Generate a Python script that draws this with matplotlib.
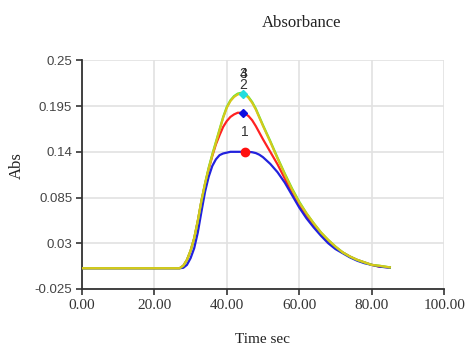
import numpy as np
import matplotlib
matplotlib.use('Agg')
import matplotlib.pyplot as plt

# time axis (sec)
t = [0, 27, 28, 29, 30, 31, 32, 33, 34, 35, 36, 37, 38, 39, 40, 41, 42, 43,
     44, 45, 46, 47, 48, 49, 50, 52, 54, 56, 58, 60, 62, 64, 66, 68, 70, 72,
     74, 76, 78, 80, 82, 85]

abs1 = [0.0, 0.0, 0.0005, 0.004, 0.012, 0.024, 0.043, 0.068, 0.092, 0.110,
        0.123, 0.131, 0.136, 0.138, 0.139, 0.140, 0.140, 0.140, 0.140, 0.140,
        0.140, 0.1395, 0.1385, 0.1365, 0.1335, 0.1255, 0.1155, 0.103, 0.088,
        0.073, 0.060, 0.049, 0.039, 0.030, 0.023, 0.018, 0.013, 0.009, 0.006,
        0.004, 0.002, 0.0005]
abs2 = [0.0, 0.0, 0.003, 0.010, 0.021, 0.036, 0.057, 0.081, 0.101, 0.119,
        0.135, 0.149, 0.160, 0.170, 0.177, 0.182, 0.185, 0.187, 0.187, 0.186,
        0.183, 0.178, 0.171, 0.163, 0.155, 0.140, 0.125, 0.108, 0.090, 0.075,
        0.062, 0.051, 0.041, 0.032, 0.025, 0.019, 0.014, 0.010, 0.007, 0.004,
        0.002, 0.001]
abs3 = [0.0, 0.0, 0.003, 0.010, 0.021, 0.036, 0.057, 0.081, 0.102, 0.121,
        0.137, 0.152, 0.167, 0.182, 0.194, 0.202, 0.207, 0.210, 0.211, 0.210,
        0.206, 0.200, 0.192, 0.182, 0.172, 0.153, 0.133, 0.114, 0.096, 0.080,
        0.066, 0.054, 0.043, 0.034, 0.026, 0.019, 0.014, 0.010, 0.007, 0.004,
        0.003, 0.001]
abs4 = [0.0, 0.0, 0.003, 0.010, 0.021, 0.036, 0.057, 0.081, 0.102, 0.120,
        0.136, 0.151, 0.166, 0.181, 0.193, 0.201, 0.206, 0.209, 0.210, 0.209,
        0.205, 0.199, 0.191, 0.181, 0.171, 0.152, 0.132, 0.113, 0.095, 0.079,
        0.066, 0.054, 0.043, 0.034, 0.026, 0.019, 0.014, 0.010, 0.007, 0.004,
        0.003, 0.001]

# peak markers: (time, abs, label)
peak_t = [45, 44.5, 44.5, 44.5]
peak_v = [0.140, 0.187, 0.209, 0.209]
peak_lbl = ['1', '2', '3', '4']

xticks = [0, 20, 40, 60, 80, 100]
xlabels = ['0.00', '20.00', '40.00', '60.00', '80.00', '100.00']
yticks = [-0.025, 0.03, 0.085, 0.14, 0.195, 0.25]
ylabels = ['-0.025', '0.03', '0.085', '0.14', '0.195', '0.25']

fig = plt.figure(figsize=(4.68, 3.49), dpi=100)
ax = fig.add_axes([0.175, 0.172, 0.774, 0.655])

ax.plot(t, abs2, color='#ff2222', lw=1.6, zorder=3)
ax.plot(t, abs1, color='#2222dd', lw=1.6, zorder=3)
ax.plot(t, abs3, color='#55ee33', lw=1.6, zorder=3)
ax.plot(t, abs4, color='#d6c81c', lw=1.6, zorder=3)

ax.plot(peak_t[0], peak_v[0], 'o', color='#ff1010', ms=6, zorder=4)
ax.plot(peak_t[1], peak_v[1], 'D', color='#1010e0', ms=4.5, zorder=4)
ax.plot(peak_t[2], peak_v[2], 'D', color='#22dddd', ms=4.5, zorder=4)

offs = [14, 20, 15, 15]
for i in range(4):
  ax.annotate(peak_lbl[i], (peak_t[i], peak_v[i]), xytext=(0, offs[i]),
              textcoords='offset points', ha='center', va='center',
              fontsize=10, color='#333333', family='Liberation Sans')

ax.set_xlim(0, 100)
ax.set_ylim(-0.025, 0.25)
ax.set_xticks(xticks)
ax.set_xticklabels(xlabels, family='Liberation Serif', fontsize=11, color='#333333')
ax.set_yticks(yticks)
ax.set_yticklabels(ylabels, family='Liberation Sans', fontsize=9.5, color='#444444')
ax.grid(True, color='#e2e2e2', lw=1.2)
ax.set_axisbelow(True)
for s in ['top', 'right']:
  ax.spines[s].set_visible(False)
for s in ['left', 'bottom']:
  ax.spines[s].set_color('#333333')
  ax.spines[s].set_linewidth(1.3)
ax.tick_params(direction='out', length=4, width=1.2, color='#333333', pad=3)

fig.text(0.645, 0.935, 'Absorbance', family='Liberation Serif', fontsize=12,
         ha='center', va='center', color='#222222')
fig.text(0.035, 0.527, 'Abs', family='Liberation Serif', fontsize=12,
         rotation=90, ha='center', va='center', color='#222222')
fig.text(0.56, 0.026, 'Time sec', family='Liberation Serif', fontsize=11,
         ha='center', va='center', color='#222222')

fig.savefig('out.png', dpi=100)
